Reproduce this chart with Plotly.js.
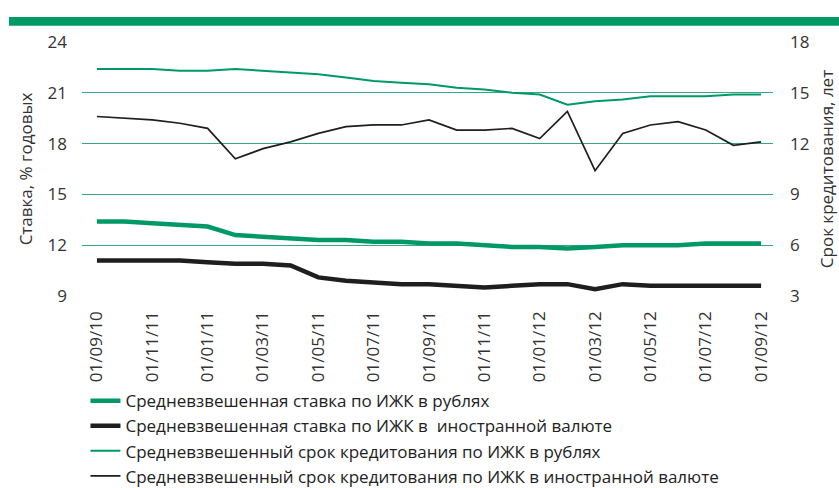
<!DOCTYPE html>
<html>
<head>
<meta charset="utf-8">
<script src="https://cdn.plot.ly/plotly-3.0.1.min.js"></script>
<style>html,body{margin:0;padding:0;background:#fff;}#chart{width:839px;height:488px;}</style>
</head>
<body>
<div id="chart"></div>
<script>
// Months (Sep 2010 .. Sep 2012)
var months = ["09/10","10/10","11/10","12/10","01/11","02/11","03/11","04/11","05/11","06/11","07/11","08/11",
              "09/11","10/11","11/11","12/11","01/12","02/12","03/12","04/12","05/12","06/12","07/12","08/12","09/12"];
var tickMonths = ["09/10","11/10","01/11","03/11","05/11","07/11","09/11","11/11","01/12","03/12","05/12","07/12","09/12"];
var tickLabels = ["01/09/10","01/11/11","01/01/11","01/03/11","01/05/11","01/07/11","01/09/11","01/11/11","01/01/12","01/03/12","01/05/12","01/07/12","01/09/12"];

// Weighted average rate, % (left axis)
var rateRub = [13.4,13.4,13.3,13.2,13.1,12.6,12.5,12.4,12.3,12.3,12.2,12.2,12.1,12.1,12.0,11.9,11.9,11.8,11.9,12.0,12.0,12.0,12.1,12.1,12.1];
var rateFx  = [11.1,11.1,11.1,11.1,11.0,10.9,10.9,10.8,10.1,9.9,9.8,9.7,9.7,9.6,9.5,9.6,9.7,9.7,9.4,9.7,9.6,9.6,9.6,9.6,9.6];
// Weighted average term, years (right axis)
var termRub = [16.4,16.4,16.4,16.3,16.3,16.4,16.3,16.2,16.1,15.9,15.7,15.6,15.5,15.3,15.2,15.0,14.9,14.3,14.5,14.6,14.8,14.8,14.8,14.9,14.9];
var termFx  = [13.6,13.5,13.4,13.2,12.9,11.1,11.7,12.1,12.6,13.0,13.1,13.1,13.4,12.8,12.8,12.9,12.3,13.9,10.4,12.6,13.1,13.3,12.8,11.9,12.1];

var names = ["Средневзвешенная ставка по ИЖК в рублях",
             "Средневзвешенная ставка по ИЖК в  иностранной валюте",
             "Средневзвешенный срок кредитования по ИЖК в рублях",
             "Средневзвешенный срок кредитования по ИЖК в иностранной валюте"];

var GREEN = "#009966", BLACK = "#1e1e1e";
var FONT = "'Open Sans', 'Noto Sans', sans-serif";

var traces = [
  {x: months, y: rateRub, name: names[0], type: "scatter", mode: "lines", yaxis: "y", line: {color: GREEN, width: 4.5}},
  {x: months, y: rateFx,  name: names[1], type: "scatter", mode: "lines", yaxis: "y", line: {color: BLACK, width: 4.5}},
  {x: months, y: termRub, name: names[2], type: "scatter", mode: "lines", yaxis: "y2", line: {color: GREEN, width: 2}},
  {x: months, y: termFx,  name: names[3], type: "scatter", mode: "lines", yaxis: "y2", line: {color: BLACK, width: 1.7}}
];

var layout = {
  width: 839, height: 488,
  margin: {l: 82, r: 66, t: 42, b: 192, autoexpand: false},
  paper_bgcolor: "#fff", plot_bgcolor: "#fff",
  font: {family: FONT, size: 17, color: "#333"},
  showlegend: true,
  legend: {x: 0.005, xanchor: "left", y: -0.343, yanchor: "top", orientation: "v",
           font: {family: FONT, size: 17, color: "#222"}, tracegroupgap: 0, bgcolor: "rgba(0,0,0,0)"},
  xaxis: {type: "category", categoryorder: "array", categoryarray: months, automargin: false,
          range: [-0.54, 24.43], tickmode: "array", tickvals: tickMonths, ticktext: tickLabels,
          tickangle: -90, showgrid: false, zeroline: false, showline: false, ticks: "",
          ticklabelstandoff: 11, tickfont: {family: FONT, size: 17, color: "#333"}},
  yaxis: {range: [9, 24], tickvals: [9,12,15,18,21,24], showgrid: true, gridcolor: "#33a97c", gridwidth: 1,
          zeroline: false, showline: false, ticks: "", ticklabelstandoff: 14, automargin: false,
          tickfont: {family: FONT, size: 17, color: "#333"},
          title: {text: "Ставка, % годовых", font: {family: FONT, size: 17, color: "#333"}, standoff: 10}},
  yaxis2: {range: [3, 18], tickvals: [3,6,9,12,15,18], overlaying: "y", side: "right", showgrid: false,
           zeroline: false, showline: false, ticks: "", ticklabelstandoff: 16, automargin: false,
           tickfont: {family: FONT, size: 17, color: "#333"},
           title: {text: "Срок кредитования, лет", font: {family: FONT, size: 17, color: "#333"}, standoff: 12}},
  shapes: [
    {type: "rect", xref: "paper", yref: "paper", x0: -0.1056, x1: 1.1, y0: 1.064, y1: 1.098,
     fillcolor: GREEN, line: {width: 0}, layer: "above"}
  ]
};

Plotly.newPlot("chart", traces, layout, {displayModeBar: false, staticPlot: true});
</script>
</body>
</html>
